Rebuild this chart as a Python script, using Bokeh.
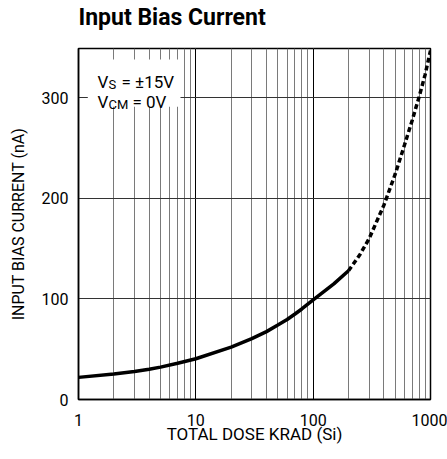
from bokeh.plotting import figure
from bokeh.models import FixedTicker, PrintfTickFormatter, Range1d, Title
from bokeh.core.properties import value
from bokeh.embed import file_html
from bokeh.resources import INLINE

# ---- data ----
dose_solid = [1, 2, 3, 4, 5, 7, 10, 20, 30, 40, 50, 60, 70, 80, 100, 150, 200]
ib_solid = [22, 25.3, 27.8, 30, 32.2, 36, 40.5, 52, 60.5, 67.5, 74, 79.5, 85, 90, 99, 115, 128]
dose_dash = [200, 250, 300, 400, 500, 600, 700, 800, 900, 1000]
ib_dash = [128, 144, 160, 193, 224, 253, 278, 301, 323, 347]
y_ticks = [0, 100, 200, 300]

FONT = "Roboto"

p = figure(width=447, height=459, x_axis_type="log",
           x_range=Range1d(1, 1000), y_range=Range1d(0, 349),
           output_backend="svg", toolbar_location=None,
           min_border_left=78, min_border_right=17,
           min_border_top=48, min_border_bottom=60)

# spacer between frame and title, then the title itself
p.add_layout(Title(text=" ", text_font=FONT, text_font_size="10px", standoff=5), "above")
p.add_layout(Title(text="Input Bias Current", text_font=FONT, text_font_style="bold",
                   text_font_size="23px", text_color="black", align="left",
                   standoff=0), "above")

p.outline_line_color = "black"
p.outline_line_width = 1.5

# axes
for ax in (p.xaxis, p.yaxis):
    ax.axis_line_color = "black"
    ax.axis_line_width = 1.5
    ax.major_tick_line_color = None
    ax.minor_tick_line_color = None
    ax.major_tick_out = 0
    ax.major_tick_in = 0
    ax.minor_tick_out = 0
    ax.minor_tick_in = 0
    ax.major_label_text_font = FONT
    ax.major_label_text_font_size = "16px"
    ax.major_label_text_color = "black"
    ax.axis_label_text_font = FONT
    ax.axis_label_text_font_style = "normal"
    ax.axis_label_text_color = "black"

p.xaxis.axis_label = "TOTAL DOSE KRAD (Si)"
p.yaxis.axis_label = "INPUT BIAS CURRENT (nA)"
p.xaxis.axis_label_text_font_size = "17px"
p.yaxis.axis_label_text_font_size = "16px"
p.xaxis.formatter = PrintfTickFormatter(format="%d")
p.yaxis.ticker = FixedTicker(ticks=y_ticks)
p.xaxis.major_label_standoff = 14
p.xaxis.axis_label_standoff = -5
p.yaxis.major_label_standoff = 10
p.yaxis.axis_label_standoff = 11

# grids
p.xgrid.grid_line_color = "black"
p.xgrid.grid_line_width = 1
p.xgrid.minor_grid_line_color = "#7a7a7a"
p.xgrid.minor_grid_line_width = 1
p.ygrid.ticker = FixedTicker(ticks=y_ticks)
p.ygrid.grid_line_color = "#333333"
p.ygrid.grid_line_width = 1

# curve
p.line(dose_solid, ib_solid, line_color="black", line_width=3.5)
p.line(dose_dash, ib_dash, line_color="black", line_width=3.5, line_dash="5 3")

# condition box (white background over grid)
p.quad(left=[1.2], right=[7.4], bottom=[291], top=[338],
       fill_color="white", line_color=None)

main = dict(text_font=value(FONT), text_font_size="17px", text_color="black",
            text_baseline="alphabetic", text_align="left")
sub = dict(text_font=value(FONT), text_font_size="13px", text_color="black",
           text_baseline="alphabetic", text_align="left")
p.text(x=[1], y=[300], text=["V"], x_offset=19, y_offset=-16, **main)
p.text(x=[1], y=[300], text=["S"], x_offset=30, y_offset=-13, **sub)
p.text(x=[1], y=[300], text=["= ±15V"], x_offset=43, y_offset=-16, **main)
p.text(x=[1], y=[300], text=["V"], x_offset=19, y_offset=4, **main)
p.text(x=[1], y=[300], text=["CM"], x_offset=30, y_offset=7, **sub)
p.text(x=[1], y=[300], text=["= 0V"], x_offset=54, y_offset=4, **main)

open("out.html", "w").write(file_html(p, INLINE))
